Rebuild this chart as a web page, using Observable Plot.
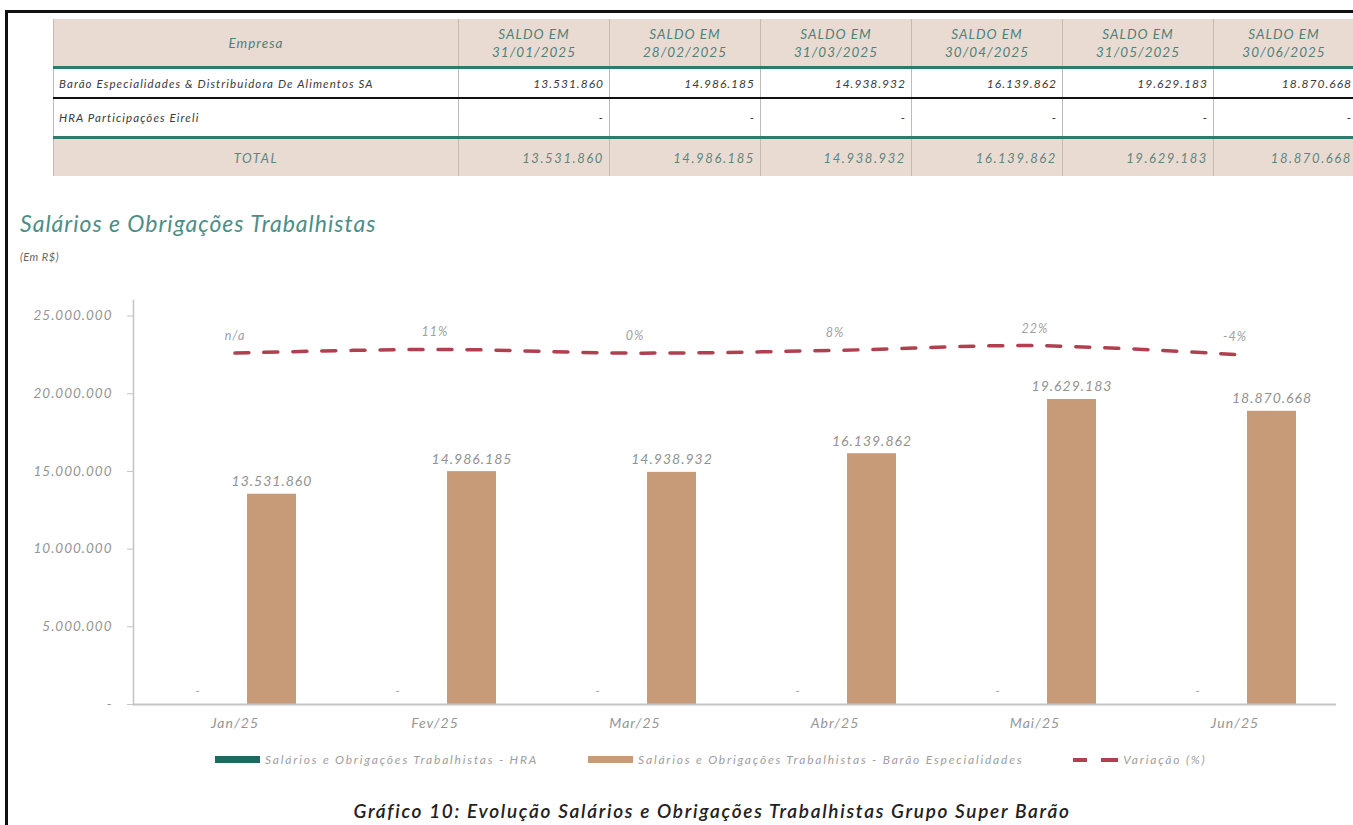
<!DOCTYPE html>
<html>
<head>
<meta charset="utf-8">
<script src="https://cdn.jsdelivr.net/npm/d3@7"></script>
<script src="https://cdn.jsdelivr.net/npm/@observablehq/plot@0.6"></script>
<style>
  html, body { margin: 0; padding: 0; width: 1353px; height: 825px; overflow: hidden; background: #fff; font-family: "Lato", "Open Sans", sans-serif; font-style: italic; }
  #frame { position: absolute; left: 5px; top: 10px; width: 1400px; height: 900px; border-left: 3px solid #111; border-top: 3px solid #111; }
  #tbl { position: absolute; left: 53px; top: 19px; border-collapse: collapse; table-layout: fixed; width: 1300px; }
  #tbl td, #tbl th { border-left: 1px solid #c2bbb5; border-right: 1px solid #c2bbb5; padding: 0 5px; font-weight: normal; overflow: hidden; white-space: nowrap; }
  #tbl thead th { background: #E9DBD1; color: #4E817B; font-size: 13.5px; letter-spacing: 1px; line-height: 18px; height: 47px; text-align: center; border-bottom: 3px solid #2E7A70; }
  #tbl tr.r1 td { height: 28px; font-size: 11.5px; letter-spacing: 1.1px; color: #3a3a3a; border-bottom: 2px solid #111; }
  #tbl tr.r2 td { height: 37px; font-size: 11.5px; letter-spacing: 1.1px; color: #3a3a3a; border-bottom: 3px solid #2E7A70; }
  #tbl tr.tot td { height: 37px; background: #E9DBD1; color: #5E8680; font-size: 13px; letter-spacing: 1.6px; }
  #tbl tr.r1 td.num, #tbl tr.r2 td.num { letter-spacing: 1px; font-size: 12px; }
  #tbl td.num { text-align: right; }
  #tbl td:last-child { padding-right: 2px; }
  #tbl td.name { text-align: left; }
  #tbl td.c { text-align: center; }
  #title { position: absolute; left: 20px; top: 209px; font-size: 23px; letter-spacing: 1px; color: #4B8E88; white-space: nowrap; }
  #sub { position: absolute; left: 20px; top: 250px; font-size: 11px; letter-spacing: 0.5px; color: #666; }
  #chart { position: absolute; left: 0; top: 280px; }
  #legend { position: absolute; top: 752px; left: 215px; display: flex; align-items: center; font-size: 12px; letter-spacing: 1.8px; color: #9e9e9e; white-space: nowrap; }
  #legend .it { display: flex; align-items: center; margin-right: 50px; }
  #legend .sw { width: 45px; height: 7px; margin-right: 5px; }
  #legend .dash { width: 45px; height: 4px; margin-right: 5px; background: linear-gradient(90deg, #b04050 0 14px, transparent 14px 28px, #b04050 28px 45px); }
  #caption { position: absolute; top: 799px; left: 712px; transform: translateX(-50%); white-space: nowrap; font-size: 19px; letter-spacing: 1.7px; font-weight: 600; color: #222; }
  #chart svg text { letter-spacing: 1px; }
</style>
</head>
<body>
<div id="frame"></div>
<table id="tbl"></table>
<div id="title">Salários e Obrigações Trabalhistas</div>
<div id="sub">(Em R$)</div>
<div id="chart"></div>
<div id="legend"></div>
<div id="caption">Gráfico 10: Evolução Salários e Obrigações Trabalhistas Grupo Super Barão</div>
<script>
// ---- data ----
const months = ["Jan/25", "Fev/25", "Mar/25", "Abr/25", "Mai/25", "Jun/25"];
const tableDates = ["31/01/2025", "28/02/2025", "31/03/2025", "30/04/2025", "31/05/2025", "30/06/2025"];
const companies = ["Barão Especialidades & Distribuidora De Alimentos SA", "HRA Participações Eireli"];
const baraoValues = [13531860, 14986185, 14938932, 16139862, 19629183, 18870668];
const hraValues = [0, 0, 0, 0, 0, 0];
const variation = [null, 0.11, 0.00, 0.08, 0.22, -0.04];
const variationLabels = ["n/a", "11%", "0%", "8%", "22%", "-4%"];
const yTicks = [0, 5000000, 10000000, 15000000, 20000000, 25000000];
const seriesNames = ["Salários e Obrigações Trabalhistas - HRA", "Salários e Obrigações Trabalhistas - Barão Especialidades", "Variação (%)"];
const seriesColors = ["#1D6B5F", "#C89B78", "#B04050"];

// ---- formatting ----
const loc = d3.formatLocale({decimal: ",", thousands: ".", grouping: [3], currency: ["R$", ""]});
const fmt = loc.format(",.0f");
const fmtCell = v => v === 0 ? "-" : fmt(v);

// ---- table ----
const tbl = document.getElementById("tbl");
let html = '<colgroup><col style="width:405px">' + tableDates.map((d, i) => `<col style="width:${i === tableDates.length - 1 ? 141 : 151}px">`).join("") + '</colgroup>';
html += '<thead><tr><th>Empresa</th>' + tableDates.map(d => `<th>SALDO EM<br>${d}</th>`).join("") + '</tr></thead><tbody>';
html += '<tr class="r1"><td class="name">' + companies[0] + '</td>' + baraoValues.map(v => `<td class="num">${fmtCell(v)}</td>`).join("") + '</tr>';
html += '<tr class="r2"><td class="name">' + companies[1] + '</td>' + hraValues.map(v => `<td class="num">${fmtCell(v)}</td>`).join("") + '</tr>';
html += '<tr class="tot"><td class="c">TOTAL</td>' + baraoValues.map((v, i) => `<td class="num">${fmtCell(v + hraValues[i])}</td>`).join("") + '</tr>';
html += '</tbody>';
tbl.innerHTML = html;

// ---- chart data ----
const barao = months.map((m, i) => ({month: m, value: baraoValues[i]}));
const hra = months.map((m, i) => ({month: m, value: hraValues[i]}));
const varData = months.map((m, i) => ({month: m, v: variation[i], label: variationLabels[i]}));
// hidden secondary axis for the percentage line
const varScale = d3.scaleLinear().domain([-10.35, 1.55]).range([0, 26000000]);

const chart = Plot.plot({
  width: 1353,
  height: 460,
  marginLeft: 133,
  marginRight: 17,
  marginTop: 20,
  marginBottom: 36,
  style: {fontFamily: "Lato, 'Open Sans', sans-serif", fontStyle: "italic", fontSize: "13px", color: "#909090", background: "transparent"},
  x: {domain: months, paddingInner: 0.7556, paddingOuter: 0.378, label: null},
  y: {domain: [0, 26000000], label: null},
  marks: [
    Plot.frame({anchor: "left", stroke: "#c4c4c4", strokeWidth: 1.5}),
    Plot.axisY({ticks: yTicks, tickFormat: d => d === 0 ? "-" : fmt(d), tickSize: 6, tickPadding: 15, stroke: "#c4c4c4", fontSize: 13.5, fill: "#959595"}),
    Plot.axisX({tickSize: 0, tickPadding: 14, fontSize: 14, fill: "#959595"}),
    Plot.barY(hra, {x: "month", y: "value", fill: seriesColors[0], dx: -37}),
    Plot.barY(barao, {x: "month", y: "value", fill: seriesColors[1], dx: 37}),
    Plot.ruleY([0], {stroke: "#c4c4c4", strokeWidth: 2}),
    Plot.text(barao, {x: "month", y: "value", text: d => fmt(d.value), dx: 37, dy: -8, lineAnchor: "bottom", fontSize: 14, fill: "#929292", fontStyle: "italic"}),
    Plot.text(hra, {x: "month", y: "value", text: d => fmtCell(d.value), dx: -37, dy: -10, lineAnchor: "bottom", fontSize: 12, fill: "#a0a0a0"}),
    Plot.line(varData, {x: "month", y: d => varScale(d.v ?? 0), stroke: seriesColors[2], strokeWidth: 3.5, strokeDasharray: "14,15", curve: "catmull-rom"}),
    Plot.text(varData, {x: "month", y: d => varScale(d.v ?? 0), text: "label", dy: -13, lineAnchor: "bottom", fontSize: 12.5, fill: "#a0a0a0"})
  ]
});
document.getElementById("chart").appendChild(chart);

// ---- legend ----
const legend = document.getElementById("legend");
legend.innerHTML = seriesNames.map((n, i) =>
  `<div class="it">${i === 2 ? '<div class="dash"></div>' : `<div class="sw" style="background:${seriesColors[i]}"></div>`}<span>${n}</span></div>`
).join("");
</script>
</body>
</html>
